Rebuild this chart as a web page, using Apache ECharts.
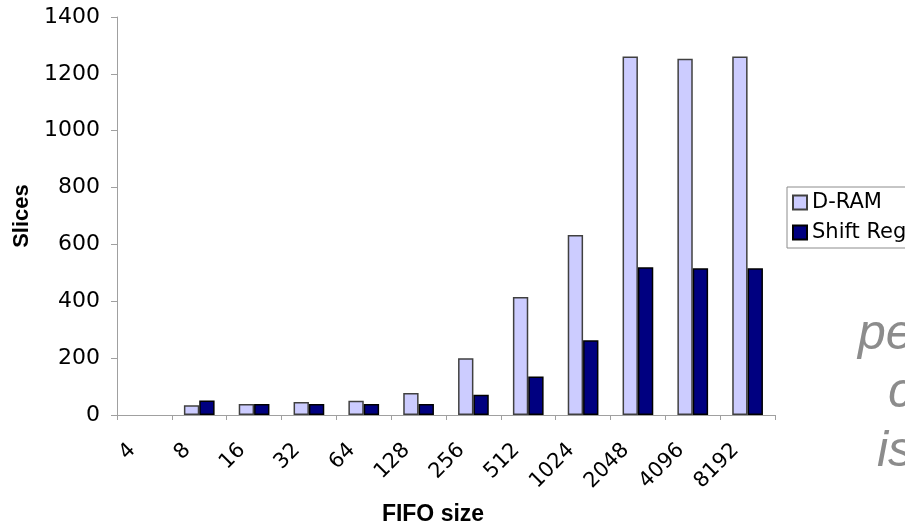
<!DOCTYPE html>
<html>
<head>
<meta charset="utf-8">
<script src="https://cdn.jsdelivr.net/npm/echarts@6/dist/echarts.min.js"></script>
<style>
html,body{margin:0;padding:0;background:#fff;}
#chart{width:905px;height:531px;}
</style>
</head>
<body>
<div id="chart"></div>
<script>
var categories = ['4','8','16','32','64','128','256','512','1024','2048','4096','8192'];
var dramValues = [null, 34, 39, 46, 50, 77, 200, 415, 633, 1261, 1253, 1261];
var shiftValues = [null, 51, 39, 39, 39, 39, 71, 135, 263, 520, 516, 516];
var yTicks = {min: 0, max: 1400, interval: 200};
var seriesNames = ['D-RAM', 'Shift Register'];
var sideText = ['pe', 'c', 'is'];

var labelFont = 'DejaVu Sans';
var chart = echarts.init(document.getElementById('chart'), null, {renderer: 'canvas'});
chart.setOption({
  backgroundColor: '#ffffff',
  animation: false,
  grid: {left: 117, right: 130, top: 17, bottom: 113, containLabel: false},
  legend: {
    orient: 'vertical',
    left: 787,
    top: 187,
    padding: [5, 5, 5, 5],
    itemGap: 9,
    itemWidth: 14,
    itemHeight: 14,
    icon: 'rect',
    borderColor: '#8c8c8c',
    borderWidth: 1,
    textStyle: {fontFamily: labelFont, fontSize: 21, color: '#000'},
    data: seriesNames
  },
  xAxis: {
    type: 'category',
    data: categories,
    boundaryGap: true,
    name: 'FIFO size',
    nameLocation: 'middle',
    nameGap: 88,
    nameTextStyle: {fontFamily: 'Liberation Sans, Arial', fontWeight: 'bold', fontSize: 23, color: '#000', padding: [0, 26, 0, 0]},
    axisLine: {lineStyle: {color: '#a0a0a0', width: 1}},
    axisTick: {show: true, length: 5, alignWithLabel: false, lineStyle: {color: '#a0a0a0'}},
    axisLabel: {
      interval: 0,
      rotate: 45,
      margin: 20,
      padding: [0, 17, 0, 0],
      fontFamily: labelFont,
      fontSize: 21,
      color: '#000'
    },
    splitLine: {show: false}
  },
  yAxis: {
    type: 'value',
    min: yTicks.min,
    max: yTicks.max,
    interval: yTicks.interval,
    name: 'Slices',
    nameLocation: 'middle',
    nameGap: 77,
    nameRotate: 90,
    nameTextStyle: {fontFamily: 'Liberation Sans, Arial', fontWeight: 'bold', fontSize: 22, color: '#000'},
    axisLine: {show: true, lineStyle: {color: '#a0a0a0', width: 1}},
    axisTick: {show: true, inside: false, length: 6, lineStyle: {color: '#a0a0a0'}},
    axisLabel: {margin: 17, fontFamily: labelFont, fontSize: 22, color: '#000', formatter: function (v) { return String(v); }},
    splitLine: {show: false}
  },
  series: [
    {
      name: seriesNames[0],
      type: 'bar',
      data: dramValues,
      barGap: '0%',
      barCategoryGap: '44%',
      itemStyle: {color: '#ccccff', borderColor: '#404040', borderWidth: 1.5}
    },
    {
      name: seriesNames[1],
      type: 'bar',
      data: shiftValues,
      barGap: '0%',
      barCategoryGap: '44%',
      itemStyle: {color: '#000080', borderColor: '#000000', borderWidth: 1.5}
    }
  ],
  graphic: [
    {type: 'text', left: 858, top: 310, style: {text: sideText[0], font: 'italic 50px "Liberation Sans", Arial', fill: '#8c8c8c'}},
    {type: 'text', left: 888, top: 368, style: {text: sideText[1], font: 'italic 50px "Liberation Sans", Arial', fill: '#8c8c8c'}},
    {type: 'text', left: 877, top: 427, style: {text: sideText[2], font: 'italic 50px "Liberation Sans", Arial', fill: '#8c8c8c'}}
  ]
});
</script>
</body>
</html>
